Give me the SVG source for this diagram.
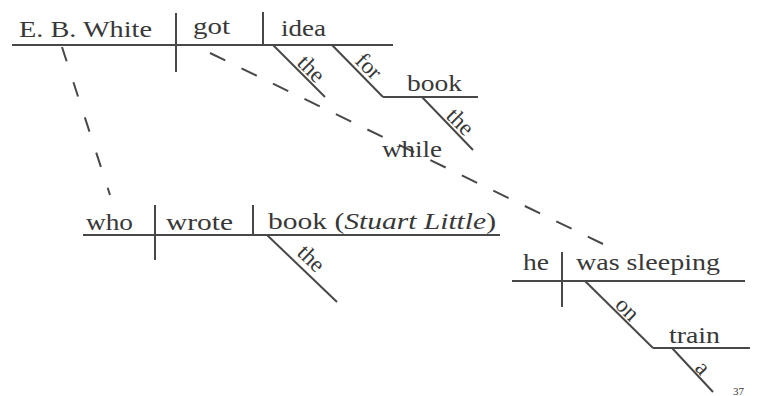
<svg xmlns="http://www.w3.org/2000/svg" width="757" height="396" viewBox="0 0 757 396">
<style>
.ln{stroke:#484848;stroke-width:2;fill:none;stroke-linecap:butt}
.dash{stroke:#484848;stroke-width:2;fill:none;stroke-dasharray:17 18}
.t{font-family:"Liberation Serif","Times New Roman",serif;font-size:24px;fill:#383838}
.r{font-family:"Liberation Serif","Times New Roman",serif;font-size:23px;fill:#383838}
.s{font-family:"Liberation Serif","Times New Roman",serif;font-size:11px;fill:#383838}
</style>
<rect width="757" height="396" fill="#ffffff"/>
<g id="connectors">
<line class="dash" x1="62" y1="47" x2="110" y2="195" style="stroke-dasharray:15 22"/>
<line class="dash" x1="210" y1="53" x2="603" y2="244"/>
</g>
<g id="clause-main">
<line class="ln" x1="12" y1="45" x2="393" y2="45"/>
<line class="ln" x1="176" y1="13" x2="176" y2="72"/>
<line class="ln" x1="263" y1="12" x2="263" y2="45"/>
<text class="t" x="19" y="37" textLength="133" lengthAdjust="spacingAndGlyphs">E. B. White</text>
<text class="t" x="193" y="34" textLength="37" lengthAdjust="spacingAndGlyphs">got</text>
<text class="t" x="281" y="36" textLength="45" lengthAdjust="spacingAndGlyphs">idea</text>
</g>
<g id="mod-the-idea">
<line class="ln" x1="273" y1="45" x2="325" y2="97"/>
<text class="r" transform="translate(296,64) rotate(45)">the</text>
</g>
<g id="mod-for-book">
<line class="ln" x1="332" y1="45" x2="383" y2="97"/>
<line class="ln" x1="383" y1="97" x2="478" y2="97"/>
<text class="r" transform="translate(354,62) rotate(45)">for</text>
<text class="t" x="407" y="91" textLength="55" lengthAdjust="spacingAndGlyphs">book</text>
</g>
<g id="mod-the-book">
<line class="ln" x1="422" y1="97" x2="473" y2="150"/>
<text class="r" transform="translate(445,117) rotate(45)">the</text>
</g>
<g id="conj-while">
<text class="t" x="382" y="157" textLength="60" lengthAdjust="spacingAndGlyphs">while</text>
</g>
<g id="clause-who">
<line class="ln" x1="83" y1="235" x2="500" y2="235"/>
<line class="ln" x1="155" y1="205" x2="155" y2="260"/>
<line class="ln" x1="253" y1="205" x2="253" y2="235"/>
<text class="t" x="86" y="230" textLength="47" lengthAdjust="spacingAndGlyphs">who</text>
<text class="t" x="166" y="230" textLength="67" lengthAdjust="spacingAndGlyphs">wrote</text>
<text class="t" x="268" y="229" textLength="228" lengthAdjust="spacingAndGlyphs">book (<tspan font-style="italic">Stuart Little</tspan>)</text>
</g>
<g id="mod-the-stuart">
<line class="ln" x1="267" y1="235" x2="337" y2="302"/>
<text class="r" transform="translate(296,254) rotate(44)">the</text>
</g>
<g id="clause-he">
<line class="ln" x1="512" y1="281" x2="745" y2="281"/>
<line class="ln" x1="562" y1="252" x2="562" y2="307"/>
<text class="t" x="523" y="270" textLength="26" lengthAdjust="spacingAndGlyphs">he</text>
<text class="t" x="576" y="270" textLength="144" lengthAdjust="spacingAndGlyphs">was sleeping</text>
</g>
<g id="mod-on-train">
<line class="ln" x1="585" y1="281" x2="653" y2="348"/>
<line class="ln" x1="653" y1="348" x2="750" y2="348"/>
<text class="r" transform="translate(614,306) rotate(45)">on</text>
<text class="t" x="669" y="343" textLength="51" lengthAdjust="spacingAndGlyphs">train</text>
</g>
<g id="mod-a-train">
<line class="ln" x1="672" y1="348" x2="713" y2="392"/>
<text class="r" transform="translate(694,369) rotate(47)">a</text>
</g>
<text class="s" x="733" y="395">37</text>
</svg>
